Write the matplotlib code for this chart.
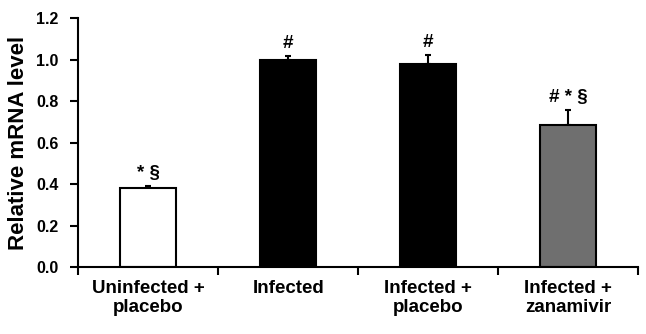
import matplotlib
matplotlib.use("Agg")
import matplotlib.pyplot as plt

plt.rcParams['font.family'] = ['Liberation Sans', 'DejaVu Sans']
plt.rcParams['font.weight'] = 'bold'

groups = ["Uninfected +\nplacebo", "Infected", "Infected +\nplacebo", "Infected +\nzanamivir"]
values = [0.38, 1.00, 0.98, 0.685]
errors = [0.01, 0.015, 0.04, 0.07]
marks = ["* \u00a7", "#", "#", "# * \u00a7"]
colors = ["white", "black", "black", "#6f6f6f"]

fig = plt.figure(figsize=(6.46, 3.34), dpi=100)
ax = fig.add_axes([0.121, 0.2006, 0.867, 0.7454])

x = list(range(len(groups)))
ax.bar(x, values, width=0.4, color=colors, edgecolor="black", linewidth=1.5, zorder=2)
ax.errorbar(x, values, yerr=[[0] * len(errors), errors], fmt="none", ecolor="black",
            elinewidth=1.5, capsize=2.5, capthick=1.5, zorder=1)

for xi, v, e, m in zip(x, values, errors, marks):
    ax.text(xi, v + e + 0.02, m, ha="center", va="bottom", fontsize=13.5, fontweight="bold")

ax.set_xlim(-0.5, 3.5)
ax.set_ylim(0, 1.2)
ticks = [0, 0.2, 0.4, 0.6, 0.8, 1.0, 1.2]
ax.set_yticks(ticks)
ax.set_yticklabels([f"{t:.1f}" for t in ticks], fontsize=11.5, fontweight="bold")
ax.set_xticks([-0.5, 0.5, 1.5, 2.5, 3.5])
ax.set_xticklabels([])
for xi, g in zip(x, groups):
    ax.text(xi, -0.065, g, ha="center", va="top", fontsize=13.5, fontweight="bold",
            linespacing=1.1)

ax.tick_params(axis="both", direction="out", length=6, width=1.5)
ax.tick_params(axis="y", pad=8)
ax.spines["top"].set_visible(False)
ax.spines["right"].set_visible(False)
ax.spines["left"].set_linewidth(1.5)
ax.spines["bottom"].set_linewidth(1.5)
ax.set_ylabel("Relative mRNA level", fontsize=16, fontweight="bold")
ax.yaxis.set_label_coords(-0.088, 0.5)

fig.savefig("out.png", dpi=100)
